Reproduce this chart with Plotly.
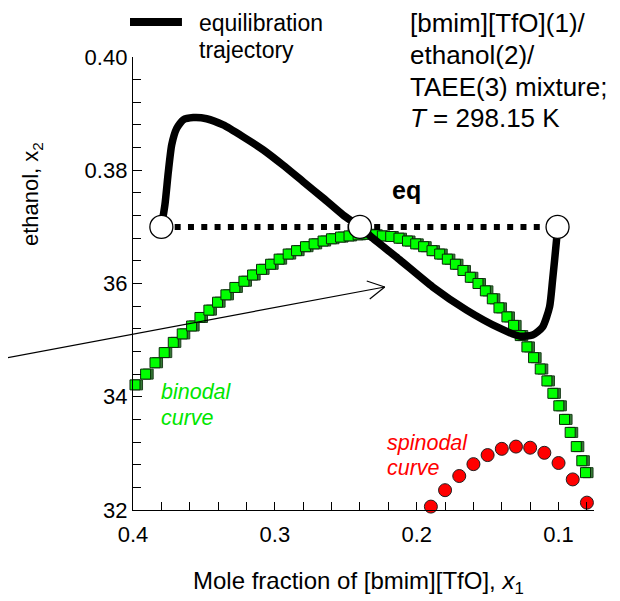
import plotly.graph_objects as go

# ---------------- data ----------------
traj_x = [0.3800, 0.3775, 0.3751, 0.3727, 0.3692, 0.3646, 0.3575, 0.3481, 0.3364,
          0.3223, 0.3082, 0.2942, 0.2801, 0.2660, 0.2519, 0.2400, 0.2310, 0.2120,
          0.1887, 0.1648, 0.1415, 0.1275, 0.1183, 0.1113, 0.1063, 0.1042, 0.1014,
          0.1007]
traj_y = [0.3700, 0.3739, 0.3797, 0.3845, 0.3874, 0.3889, 0.3893, 0.3891, 0.3880,
          0.3859, 0.3836, 0.3809, 0.3780, 0.3751, 0.3721, 0.3700, 0.3680, 0.3642,
          0.3594, 0.3553, 0.3521, 0.3507, 0.3509, 0.3523, 0.3559, 0.3606, 0.3677,
          0.3700]

eq_x = [0.3800, 0.2400, 0.1007]
eq_y = [0.3700, 0.3700, 0.3700]

binodal_x = [0.3986, 0.3911, 0.3845, 0.3780, 0.3716, 0.3653, 0.3587, 0.3528, 0.3465,
             0.3404, 0.3345, 0.3282, 0.3218, 0.3157, 0.3094, 0.3030, 0.2970, 0.2906,
             0.2847, 0.2784, 0.2723, 0.2660, 0.2601, 0.2537, 0.2477, 0.2413, 0.2354,
             0.2296, 0.2242, 0.2183, 0.2125, 0.2065, 0.2007, 0.1951, 0.1892, 0.1838,
             0.1784, 0.1727, 0.1674, 0.1622, 0.1568, 0.1516, 0.1467, 0.1420, 0.1364,
             0.1317, 0.1270, 0.1223, 0.1176, 0.1129, 0.1082, 0.1040, 0.0998, 0.0958,
             0.0918, 0.0875, 0.0836, 0.0810]
binodal_y = [0.3421, 0.3440, 0.3460, 0.3478, 0.3496, 0.3511, 0.3525, 0.3540, 0.3553,
             0.3567, 0.3580, 0.3593, 0.3604, 0.3615, 0.3625, 0.3634, 0.3643, 0.3652,
             0.3658, 0.3665, 0.3670, 0.3675, 0.3679, 0.3682, 0.3684, 0.3686, 0.3687,
             0.3686, 0.3684, 0.3683, 0.3680, 0.3675, 0.3670, 0.3665, 0.3658, 0.3652,
             0.3643, 0.3634, 0.3623, 0.3611, 0.3600, 0.3587, 0.3573, 0.3557, 0.3541,
             0.3526, 0.3508, 0.3488, 0.3469, 0.3449, 0.3428, 0.3406, 0.3384, 0.3360,
             0.3337, 0.3312, 0.3287, 0.3266]

spinodal_x = [0.19, 0.18, 0.17, 0.16, 0.15, 0.14, 0.13, 0.12, 0.11, 0.10, 0.09, 0.08]
spinodal_y = [0.3206, 0.3235, 0.3260, 0.3281, 0.3297, 0.3308, 0.3312, 0.3310,
              0.3301, 0.3283, 0.3254, 0.3213]

x_tickvals = [0.4, 0.3, 0.2, 0.1]
x_ticktext = ["0.4", "0.3", "0.2", "0.1"]
y_tickvals = [0.32, 0.34, 0.36, 0.38, 0.40]
y_ticktext = ["32", "34", "36", "0.38", "0.40"]

info_lines = ["[bmim][TfO](1)/", "ethanol(2)/", "TAEE(3) mixture;", "<i>T</i> = 298.15 K"]
legend_lines = ["equilibration", "trajectory"]
binodal_lines = ["binodal", "curve"]
spinodal_lines = ["spinodal", "curve"]

FONT = "Liberation Sans, Arial, sans-serif"
X_RANGE = [0.4, 0.075]
Y_RANGE = [0.32, 0.40]
SHADOW_DX = 0.0018   # shift of the hidden axis that puts shadow squares ~2.5 px left

# plot-area geometry (in the page's pixel frame)
PL, PT, PW, PH = 133, 57, 461.5, 453
PAGE_OFF = 8  # browser body margin


def px_x(px):
    return (px - PL) / PW


def px_y(py):
    return (PT + PH - py) / PH


fig = go.Figure()

# binodal shadow: drawn on the hidden, shifted base axis (below the overlay)
fig.add_trace(go.Scatter(
    x=binodal_x, y=binodal_y, mode="markers", xaxis="x", yaxis="y",
    marker=dict(symbol="square", size=10, color="#357a35",
                line=dict(color="#1e401e", width=1)),
    cliponaxis=False, hoverinfo="skip", showlegend=False))

# binodal curve
fig.add_trace(go.Scatter(
    x=binodal_x, y=binodal_y, mode="markers", name="binodal curve", xaxis="x2",
    marker=dict(symbol="square", size=10, color="#00ff00",
                line=dict(color="#0a2a0a", width=1)),
    cliponaxis=False, showlegend=False))

# spinodal curve
fig.add_trace(go.Scatter(
    x=spinodal_x, y=spinodal_y, mode="markers", name="spinodal curve", xaxis="x2",
    marker=dict(symbol="circle", size=13, color="#ff0000",
                line=dict(color="#202020", width=1)),
    cliponaxis=False, showlegend=False))

# equilibrium tie line (dotted)
fig.add_trace(go.Scatter(
    x=[eq_x[0], eq_x[-1]], y=[eq_y[0], eq_y[-1]], mode="lines", xaxis="x2",
    line=dict(color="black", width=6, dash="6px,7.3px"),
    hoverinfo="skip", showlegend=False))

# equilibration trajectory
fig.add_trace(go.Scatter(
    x=traj_x, y=traj_y, mode="lines", name="equilibration trajectory", xaxis="x2",
    line=dict(color="black", width=7.5, shape="spline", smoothing=0.6),
    showlegend=False))

# equilibrium points
fig.add_trace(go.Scatter(
    x=eq_x, y=eq_y, mode="markers", xaxis="x2",
    marker=dict(symbol="circle", size=23, color="white",
                line=dict(color="black", width=1.3)),
    cliponaxis=False, showlegend=False))

annotations = []


def add_text(text, x, y, size, color="black", xanchor="left", xref="paper", yref="paper",
             **kw):
    annotations.append(dict(text=text, xref=xref, yref=yref, x=x, y=y,
                            xanchor=xanchor, yanchor="middle", align="left",
                            showarrow=False,
                            font=dict(size=size, color=color, family=FONT), **kw))


for line, cy in zip(info_lines, [23.5, 55, 87, 117.5]):
    add_text(line, px_x(408), px_y(cy), 26)

for line, cy in zip(legend_lines, [23, 50]):
    add_text(line, px_x(197), px_y(cy), 23)

add_text("<b>eq</b>", px_x(407), px_y(190), 25, xanchor="center")

for line, cy in zip(binodal_lines, [392, 418]):
    add_text("<i>" + line + "</i>", px_x(159), px_y(cy), 21.5, color="#00e600")

for line, cy in zip(spinodal_lines, [443, 468]):
    add_text("<i>" + line + "</i>", px_x(385), px_y(cy), 21.5, color="#ff0000")

# y-axis title (cut at the left edge in the original)
annotations.append(dict(text="ethanol, x<sub>2</sub>", xref="paper", yref="paper",
                        x=px_x(32), y=px_y(140), xanchor="center", yanchor="top",
                        textangle=-90, showarrow=False,
                        font=dict(size=22, color="black", family=FONT)))
# x-axis title
annotations.append(dict(text="Mole fraction of [bmim][TfO], <i>x</i><sub>1</sub>",
                        xref="paper", yref="paper", x=px_x(359), y=px_y(582),
                        xanchor="center", yanchor="middle", showarrow=False,
                        font=dict(size=24, color="black", family=FONT)))

shapes = [
    # legend sample line
    dict(type="line", xref="paper", yref="paper", x0=px_x(130), x1=px_x(182),
         y0=px_y(22), y1=px_y(22), line=dict(color="black", width=8)),
    # thin arrow
    dict(type="line", xref="paper", yref="paper", x0=px_x(0), y0=px_y(359),
         x1=px_x(385), y1=px_y(287), line=dict(color="black", width=1.2)),
    dict(type="line", xref="paper", yref="paper", x0=px_x(367), y0=px_y(281),
         x1=px_x(385), y1=px_y(287), line=dict(color="black", width=1.2)),
    dict(type="line", xref="paper", yref="paper", x0=px_x(370), y0=px_y(299),
         x1=px_x(385), y1=px_y(287), line=dict(color="black", width=1.2)),
]

W, H = 620 - PAGE_OFF, 601 - PAGE_OFF
ml, mt = PL - PAGE_OFF, PT - PAGE_OFF
fig.update_layout(
    width=W, height=H,
    margin=dict(l=ml, r=W - ml - PW, t=mt, b=H - mt - PH, autoexpand=False),
    paper_bgcolor="white", plot_bgcolor="white",
    font=dict(family=FONT, size=22, color="black"),
    showlegend=False,
    annotations=annotations,
    shapes=shapes,
    xaxis=dict(range=[X_RANGE[0] + SHADOW_DX, X_RANGE[1] + SHADOW_DX],
               visible=False, showgrid=False, zeroline=False),
    xaxis2=dict(range=X_RANGE, overlaying="x", side="bottom", anchor="y",
                tickvals=x_tickvals, ticktext=x_ticktext,
                showgrid=False, zeroline=False, showline=True, linecolor="black",
                linewidth=1.3, ticks="inside", ticklen=8, tickwidth=1.1,
                tickcolor="black", tickfont=dict(size=22), ticklabelstandoff=4,
                minor=dict(dtick=0.02, tick0=0, ticks="inside", ticklen=8,
                           tickwidth=1.1, tickcolor="black", showgrid=False)),
    yaxis=dict(range=Y_RANGE, tickvals=y_tickvals, ticktext=y_ticktext,
               showgrid=False, zeroline=False, showline=True, linecolor="black",
               linewidth=1.3, ticks="inside", ticklen=9, tickwidth=1.1,
               tickcolor="black", tickfont=dict(size=22),
               minor=dict(dtick=0.004, tick0=0.32, ticks="inside", ticklen=8,
                          tickwidth=1.1, tickcolor="black", showgrid=False)),
)

fig.write_html("out.html")
